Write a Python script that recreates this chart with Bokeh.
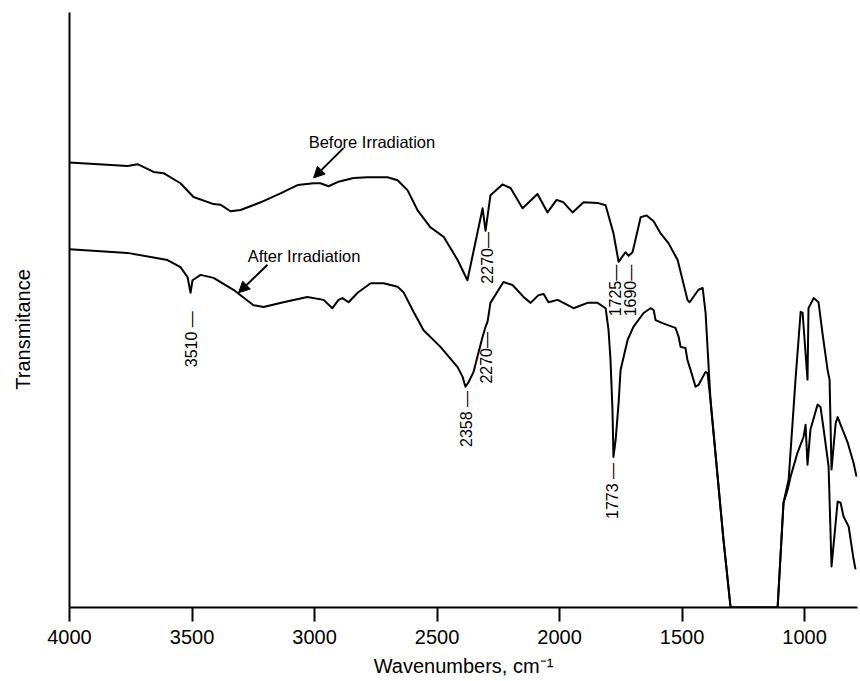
import math
from bokeh.plotting import figure
from bokeh.models import Range1d, FixedTicker, Arrow, NormalHead
from bokeh.embed import file_html
from bokeh.resources import INLINE
from bokeh.core.properties import value

# ---- data ----
before_wn = [4000, 3763, 3722, 3657, 3616, 3547, 3494, 3412, 3384, 3343, 3302, 3220, 3139, 3069, 3004,
             2976, 2943, 2906, 2841, 2784, 2702, 2661, 2620, 2580, 2527, 2473, 2416, 2376, 2314, 2302,
             2282, 2233, 2200, 2151, 2090, 2049, 2012, 1984, 1947, 1902, 1845, 1812, 1780, 1759, 1731,
             1718, 1702, 1669, 1645, 1616, 1588, 1555, 1518, 1478, 1469, 1433, 1416, 1404, 1384, 1331,
             1302, 1110, 1086, 1065, 1037, 1016, 1008, 988, 984, 963, 943, 927, 906, 898, 890,
             873, 865, 845, 824, 800, 788]
before_t = [74.8, 74.2, 74.5, 73.2, 73.0, 71.3, 69.0, 67.8, 67.7, 66.6, 66.8, 68.1, 69.6, 71.0, 71.3,
            71.3, 70.8, 71.5, 72.2, 72.3, 72.3, 71.8, 70.1, 66.8, 63.9, 62.3, 58.4, 55.0, 67.1, 63.3,
            69.3, 71.1, 70.5, 67.1, 69.5, 66.4, 68.5, 68.1, 66.4, 68.1, 68.0, 67.6, 62.9, 58.1, 59.7,
            59.1, 59.7, 65.6, 65.9, 64.9, 62.9, 61.2, 58.4, 51.7, 51.3, 53.4, 53.7, 49.5, 34.9, 11.4,
            0, 0, 17.6, 21.5, 38.3, 49.7, 49.5, 38.3, 50.3, 52.0, 51.3, 46.1, 39.9, 38.3, 23.2,
            31.0, 32.0, 29.9, 27.7, 24.3, 22.0]

after_wn = [4000, 3763, 3600, 3547, 3518, 3506, 3498, 3465, 3412, 3331, 3249, 3208, 3127, 3029, 2963,
            2927, 2902, 2886, 2861, 2824, 2771, 2718, 2661, 2637, 2596, 2555, 2486, 2416, 2396, 2384,
            2371, 2351, 2331, 2314, 2302, 2294, 2282, 2229, 2192, 2147, 2118, 2086, 2065, 2045, 2008,
            1984, 1943, 1886, 1845, 1812, 1800, 1792, 1784, 1780, 1771, 1759, 1751, 1722, 1698, 1657,
            1629, 1616, 1608, 1580, 1527, 1514, 1506, 1486, 1478, 1465, 1445, 1433, 1404, 1396, 1384,
            1331, 1302, 1110, 1086, 1069, 1057, 1029, 1004, 996, 988, 976, 947, 935, 922, 902,
            890, 865, 853, 841, 820, 800, 792]
after_t = [60.2, 59.6, 58.4, 57.2, 55.5, 52.9, 55.0, 55.9, 55.4, 53.4, 50.8, 50.5, 51.3, 52.2, 51.7,
           50.3, 51.7, 52.0, 51.3, 52.9, 54.5, 54.5, 53.9, 53.0, 49.7, 46.6, 43.8, 40.4, 38.8, 37.1,
           37.9, 39.6, 42.8, 45.5, 47.2, 48.0, 51.2, 54.7, 54.2, 52.2, 51.2, 52.5, 52.7, 51.3, 51.7,
           51.2, 50.3, 51.2, 51.2, 50.3, 46.6, 41.6, 33.2, 25.3, 28.2, 34.4, 39.9, 45.0, 47.2, 49.5,
           50.3, 50.0, 48.3, 47.8, 47.0, 45.5, 43.8, 43.6, 41.6, 39.9, 37.1, 37.4, 39.6, 39.4, 34.9,
           11.4, 0, 0, 17.6, 19.8, 22.0, 26.0, 28.7, 30.7, 24.0, 29.9, 34.1, 33.7, 29.9, 23.7,
           6.9, 17.8, 17.6, 15.3, 13.6, 8.1, 6.4]

tick_values = [4000, 3500, 3000, 2500, 2000, 1500, 1000]

peak_labels = ["3510 \u2014", "2358 \u2014", "2270\u2014", "2270\u2014", "1725\u2014", "1690\u2014", "1773 \u2014"]
peak_wn = [3502, 2380, 2294, 2298, 1771, 1710, 1784]
peak_t = [49.8, 36.4, 63.1, 46.3, 57.6, 57.6, 24.3]

note_text = ["Before Irradiation", "After Irradiation"]
note_wn = [3024, 3273]
note_t = [78.2, 59.1]

arrow_start_wn = [2882, 3192]
arrow_start_t = [77.2, 57.6]
arrow_end_wn = [3004, 3310]
arrow_end_t = [72.2, 52.9]

FONT = "Liberation Sans"

p = figure(width=858, height=679,
           x_range=Range1d(4000, 784), y_range=Range1d(0, 100),
           output_backend="svg", toolbar_location=None,
           min_border_left=69, min_border_right=1, min_border_top=12, min_border_bottom=71)
p.outline_line_color = None
p.grid.visible = False
p.background_fill_color = "white"

p.line(before_wn, before_t, line_color="black", line_width=2, line_join="round")
p.line(after_wn, after_t, line_color="black", line_width=2, line_join="round")

p.text(x=peak_wn, y=peak_t, text=peak_labels, angle=math.pi / 2,
       text_align="right", text_baseline="middle",
       text_font=value(FONT), text_font_size=value("16px"), text_color="black")

p.text(x=note_wn, y=note_t, text=note_text, text_align="left", text_baseline="alphabetic",
       text_font=value(FONT), text_font_size=value("16.5px"), text_color="black")

for xs, ys, xe, ye in zip(arrow_start_wn, arrow_start_t, arrow_end_wn, arrow_end_t):
    p.add_layout(Arrow(end=NormalHead(size=11, fill_color="black", line_color="black"),
                       x_start=xs, y_start=ys, x_end=xe, y_end=ye,
                       line_color="black", line_width=2))

# x axis
xa = p.xaxis[0]
xa.ticker = FixedTicker(ticks=tick_values)
xa.minor_tick_line_color = None
xa.major_tick_out = 14
xa.major_tick_in = 0
xa.major_tick_line_width = 2
xa.axis_line_width = 2
xa.axis_line_color = "black"
xa.major_tick_line_color = "black"
xa.major_label_text_font = FONT
xa.major_label_text_font_size = "20px"
xa.major_label_text_color = "black"
xa.major_label_standoff = 8
xa.axis_label = "Wavenumbers, cm\u207b\u00b9"
xa.axis_label_text_font = FONT
xa.axis_label_text_font_size = "20px"
xa.axis_label_text_font_style = "normal"
xa.axis_label_text_color = "black"
xa.axis_label_standoff = 8

# y axis
ya = p.yaxis[0]
ya.ticker = FixedTicker(ticks=[])
ya.minor_tick_line_color = None
ya.major_tick_out = 0
ya.major_tick_in = 0
ya.major_label_standoff = 0
ya.axis_line_width = 2
ya.axis_line_color = "black"
ya.axis_label = "Transmitance" + "\u00a0" * 7
ya.axis_label_text_font = FONT
ya.axis_label_text_font_size = "20px"
ya.axis_label_text_font_style = "normal"
ya.axis_label_text_color = "black"
ya.axis_label_standoff = 36

open("out.html", "w").write(file_html(p, INLINE))
